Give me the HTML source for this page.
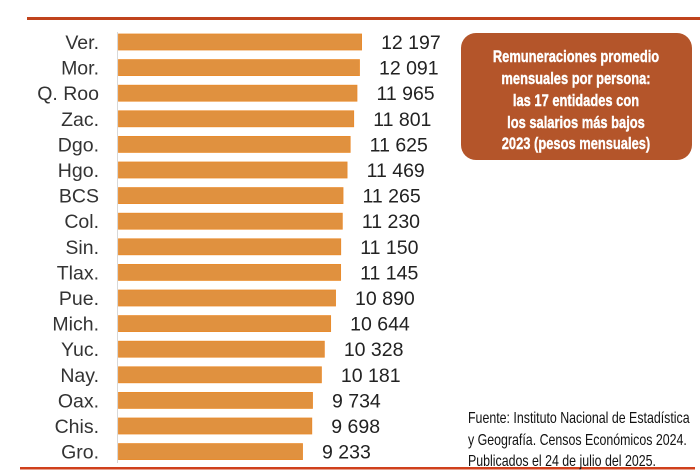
<!DOCTYPE html>
<html><head><meta charset="utf-8"><style>
html,body{margin:0;padding:0;background:#fff;}
svg{display:block;}
</style></head><body>
<svg width="700" height="475" viewBox="0 0 700 475" xmlns="http://www.w3.org/2000/svg" font-family="Liberation Sans, Arial, sans-serif">
<rect x="27" y="17" width="673" height="3" fill="#c0431c"/>
<rect x="20" y="467" width="675" height="2.5" fill="#d0401c"/>
<line x1="117.5" y1="32" x2="117.5" y2="463" stroke="#d8d8d8" stroke-width="1"/>
<g id="bars" font-size="19.5" fill="#222"></g>
<rect x="461" y="33" width="231" height="127" rx="15" fill="#b4552a"/>
<g fill="#fff" font-weight="bold" font-size="17" text-anchor="middle" stroke="#fff" stroke-width="0.4">
<text x="576" y="62" transform="translate(576 0) scale(0.76 1) translate(-576 0)">Remuneraciones promedio</text>
<text x="576" y="84" transform="translate(576 0) scale(0.76 1) translate(-576 0)">mensuales por persona:</text>
<text x="576" y="106" transform="translate(576 0) scale(0.76 1) translate(-576 0)">las 17 entidades con</text>
<text x="576" y="128" transform="translate(576 0) scale(0.76 1) translate(-576 0)">los salarios más bajos</text>
<text x="576" y="149" transform="translate(576 0) scale(0.76 1) translate(-576 0)">2023 (pesos mensuales)</text>
</g>
<g fill="#111" font-size="15.5" transform="translate(468 0) scale(0.8 1) translate(-468 0)">
<text x="468" y="423">Fuente: Instituto Nacional de Estadística</text>
<text x="468" y="445">y Geografía. Censos Económicos 2024.</text>
<text x="468" y="466">Publicados el 24 de julio del 2025.</text>
</g>
</svg>
<script>
var d=[["Ver.",12197],["Mor.",12091],["Q. Roo",11965],["Zac.",11801],["Dgo.",11625],["Hgo.",11469],["BCS",11265],["Col.",11230],["Sin.",11150],["Tlax.",11145],["Pue.",10890],["Mich.",10644],["Yuc.",10328],["Nay.",10181],["Oax.",9734],["Chis.",9698],["Gro.",9233]];
var g=document.getElementById('bars'),s='';
d.forEach(function(r,i){var y=34+i*25.6,w=r[1]*0.01993;
var v=String(r[1]).replace(/(\d)(?=(\d{3})$)/,'$1 ');
s+='<rect x="118.5" y="'+y+'" width="'+w+'" height="16" fill="#e0913f" stroke="#ea8a2a" stroke-width="0.8"/>';
s+='<text x="99" y="'+(y+15)+'" text-anchor="end" fill="#333">'+r[0]+'</text>';
s+='<text x="'+(118+w+20)+'" y="'+(y+15)+'">'+v+'</text>';});
g.innerHTML=s;
</script>
</body></html>
